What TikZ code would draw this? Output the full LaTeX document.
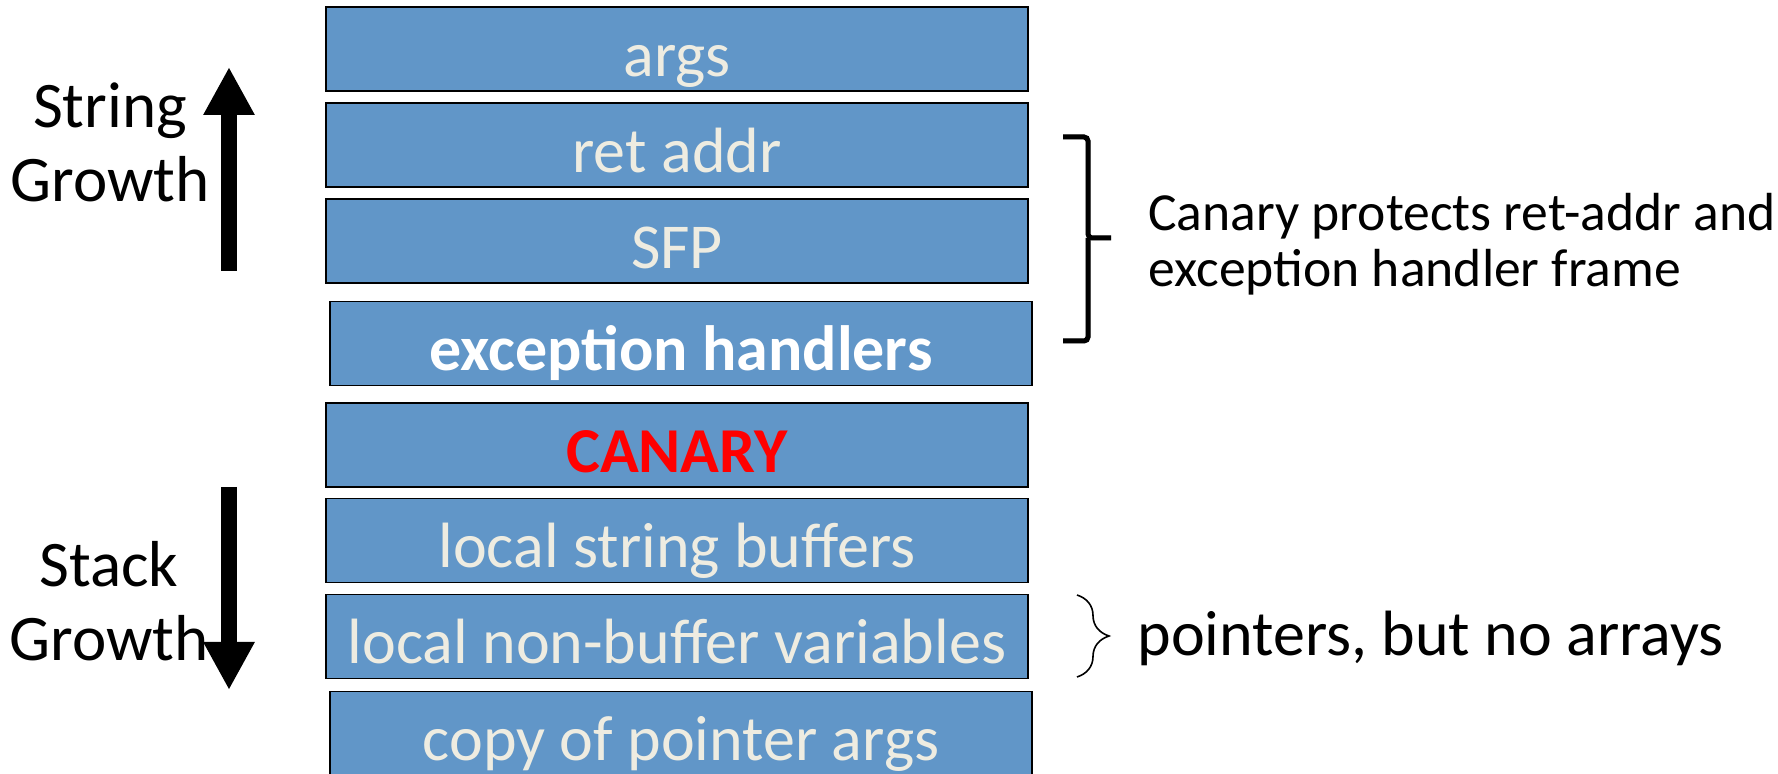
\documentclass[tikz,border=0pt]{standalone}
\usepackage{fontspec}
\setmainfont{Carlito}
\usetikzlibrary{arrows.meta,decorations.pathreplacing}
\definecolor{slotblue}{RGB}{97,150,200}
\definecolor{slottext}{RGB}{238,236,225}
\tikzset{
  slot/.style={draw=black, line width=0.9pt, fill=slotblue,
    minimum width=351pt, minimum height=42pt, inner sep=0pt,
    text height=27.5pt, text depth=0pt, text=slottext,
    font=\fontsize{32}{36}\selectfont},
  boldslot/.style={slot, font=\fontsize{32}{36}\selectfont\bfseries},
  growlabel/.style={align=center, inner sep=0pt,
    font=\fontsize{32.5}{37}\selectfont},
  growarrow/.style={line width=8pt, -{Triangle[width=24pt,length=24pt]}},
  bracket/.style={line width=2.5pt, rounded corners=2pt},
  note/.style={inner sep=0pt, align=left}
}
\begin{document}
\begin{tikzpicture}[x=0.5pt,y=-0.5pt]
\useasboundingbox (0,0) rectangle (1778,774);

% stack frame slots, top of memory first
\node[slot] (args)   at (677,49)    {args};
\node[slot] (ret)    at (677,145)   {ret addr};
\node[slot] (sfp)    at (677,241)   {SFP};
\node[boldslot, text=white] (exc) at (681,343.5) {exception handlers};
\node[boldslot, text=red]   (canary) at (677,445) {CANARY};
\node[slot] (strbuf) at (677,540.5) {local string buffers};
\node[slot] (locals) at (677,636.5) {local non-buffer variables};
\node[slot] (ptrargs) at (681,733.5) {copy of pointer args};

% growth directions (base anchor sits on the last line)
\node[growlabel, anchor=base] (strgrow) at (110,202) {String\\Growth};
\coordinate (upfoot) at (229,271);
\coordinate (uptip)  at (229,67);
\draw[growarrow] (upfoot) -- (uptip);

\node[growlabel, anchor=base] (stkgrow) at (109,661) {Stack\\Growth};
\coordinate (downfoot) at (229,487);
\coordinate (downtip)  at (229,690);
\draw[growarrow] (downfoot) -- (downtip);

% bracket over ret addr .. exception handlers, with its soft shadow
\coordinate (brtop) at (1063,137);
\coordinate (brmid) at (1088,238);
\coordinate (brtip) at (1111,238);
\coordinate (brbot) at (1063,341);
\begin{scope}[shift={(2,4)}]
  \draw[bracket, black!30, opacity=0.7] (brtop) -| (brmid) -- (brtip);
  \draw[bracket, black!30, opacity=0.7] (brmid) |- (brbot);
\end{scope}
\draw[bracket] (brtop) -| (brmid) -- (brtip);
\draw[bracket] (brmid) |- (brbot);
\node[note, anchor=base west, font=\fontsize{26.8}{28}\selectfont] (canarynote)
  at (1148,287) {Canary protects ret-addr and\\exception handler frame};

% curly brace beside the non-buffer locals
\coordinate (cbtop) at (1077,595);
\coordinate (cbbot) at (1077,677);
\draw[line width=0.8pt, decorate, decoration={brace, amplitude=16pt}] (cbtop) -- (cbbot);
\node[note, anchor=base west, font=\fontsize{32}{36}\selectfont] (ptrnote)
  at (1137,656) {pointers, but no arrays};
\end{tikzpicture}
\end{document}
